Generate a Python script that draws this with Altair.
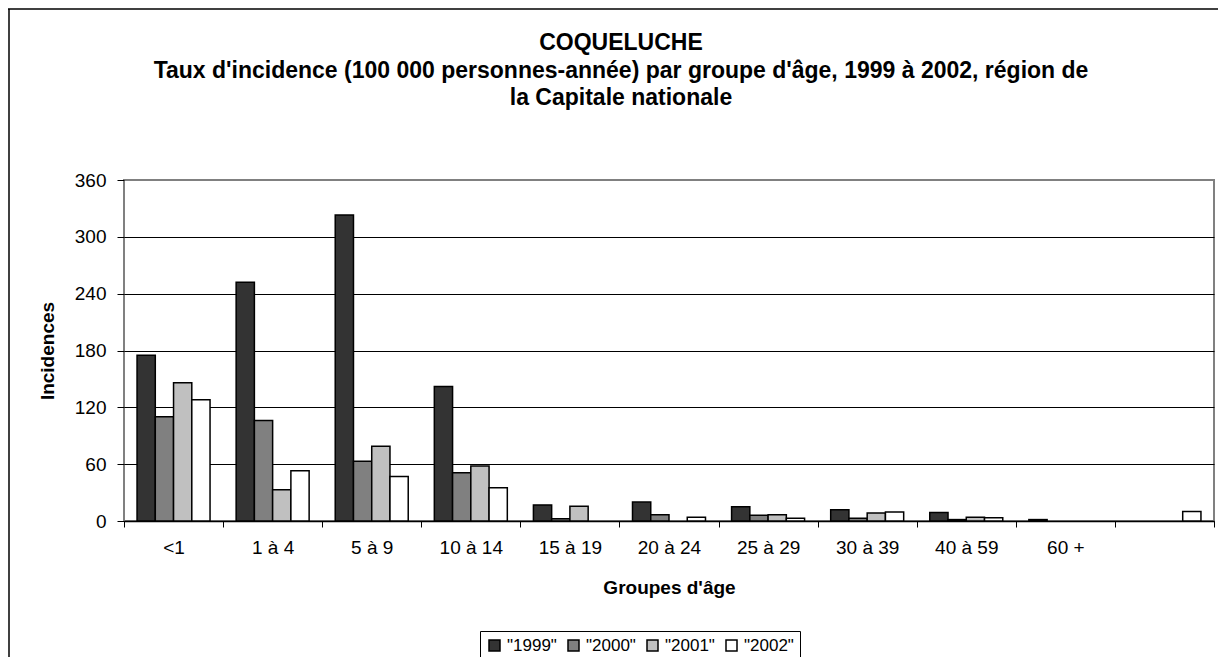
import altair as alt
import pandas as pd

groups = ["<1", "1 à 4", "5 à 9", "10 à 14", "15 à 19", "20 à 24",
          "25 à 29", "30 à 39", "40 à 59", "60 +", " "]
years = ['"1999"', '"2000"', '"2001"', '"2002"']
v1999 = [175, 252, 323, 142, 17, 20, 15, 12, 9, 1.5, 0]
v2000 = [110, 106, 63, 51, 2.5, 6.5, 6, 3, 1.5, 0, 0]
v2001 = [146, 33, 79, 58, 15.5, 0, 6.5, 8.5, 4, 0, 0]
v2002 = [128, 53, 47, 35, 0, 4, 3, 9.5, 3.5, 0, 10]
fills = ["#333333", "#808080", "#c0c0c0", "#ffffff"]
yticks = [0, 60, 120, 180, 240, 300, 360]

rows = []
for yr, vals in zip(years, [v1999, v2000, v2001, v2002]):
    for g, v in zip(groups, vals):
        rows.append({"groupe": g, "annee": yr, "valeur": v})
df = pd.DataFrame(rows)

FONT = "Liberation Sans"
W, H = 1090, 341

bars = alt.Chart(df).transform_filter("datum.valeur > 0").mark_bar(
    stroke="black", strokeWidth=1.5
).encode(
    x=alt.X("groupe:N", sort=groups,
            scale=alt.Scale(domain=groups, paddingInner=0, paddingOuter=0),
            axis=alt.Axis(title="Groupes d'âge", labelAngle=0, tickBand="extent",
                          labelFontSize=19, labelPadding=11, tickSize=6,
                          tickColor="black", domainColor="black", domainWidth=1.5,
                          labelColor="black", titleFontSize=19, titleFontWeight="bold",
                          titleColor="black", titlePadding=21, grid=False)),
    xOffset=alt.XOffset("annee:N", sort=years,
                        scale=alt.Scale(domain=years, paddingInner=0, paddingOuter=0.715)),
    y=alt.Y("valeur:Q",
            scale=alt.Scale(domain=[0, 360], nice=False, zero=True),
            axis=alt.Axis(title="Incidences", values=yticks, labelFontSize=19,
                          labelPadding=11, tickSize=7, tickColor="black",
                          domain=False, labelColor="black",
                          titleFontSize=19, titleFontWeight="bold", titleColor="black",
                          titlePadding=17, grid=True,
                          gridColor={"condition": {"test": "datum.value === 360", "value": "#808080"},
                                     "value": "black"},
                          gridWidth=1)),
    color=alt.Color("annee:N", sort=years,
                    scale=alt.Scale(domain=years, range=fills),
                    legend=alt.Legend(title=None, orient="none", legendX=356, legendY=451,
                                      direction="horizontal", symbolType="square",
                                      symbolSize=121, symbolStrokeColor="black",
                                      symbolStrokeWidth=1.5, labelFontSize=17,
                                      labelColor="black", strokeColor="black",
                                      padding=6, columnPadding=8, labelOffset=4)),
)

frame = pd.DataFrame({"k": [0]})
left_border = alt.Chart(frame).mark_rule(color="black", strokeWidth=1.5).encode(
    x=alt.value(-115), y=alt.value(-171), y2=alt.value(490)
)
top_border = alt.Chart(frame).mark_rule(color="black", strokeWidth=1.5).encode(
    x=alt.value(-116), x2=alt.value(1100), y=alt.value(-171)
)

chart = alt.layer(bars, left_border, top_border).properties(
    width=W, height=H,
    padding={"left": 116, "top": 172, "right": 4, "bottom": 136},
    autosize=alt.AutoSizeParams(type="none"),
    title=alt.TitleParams(
        text=["COQUELUCHE",
              "Taux d'incidence (100 000 personnes-année) par groupe d'âge, 1999 à 2002, région de",
              "la Capitale nationale"],
        fontSize=23, fontWeight="bold", font=FONT, color="black",
        anchor="middle", dx=-48, offset=74, dy=176, lineHeight=27.5),
).configure(
    font=FONT,
).configure_view(
    stroke="#808080", strokeWidth=2
).configure_axis(
    labelFont=FONT, titleFont=FONT
).configure_legend(
    labelFont=FONT
)

chart.save("out.html", embed_options={"renderer": "svg", "actions": False})
